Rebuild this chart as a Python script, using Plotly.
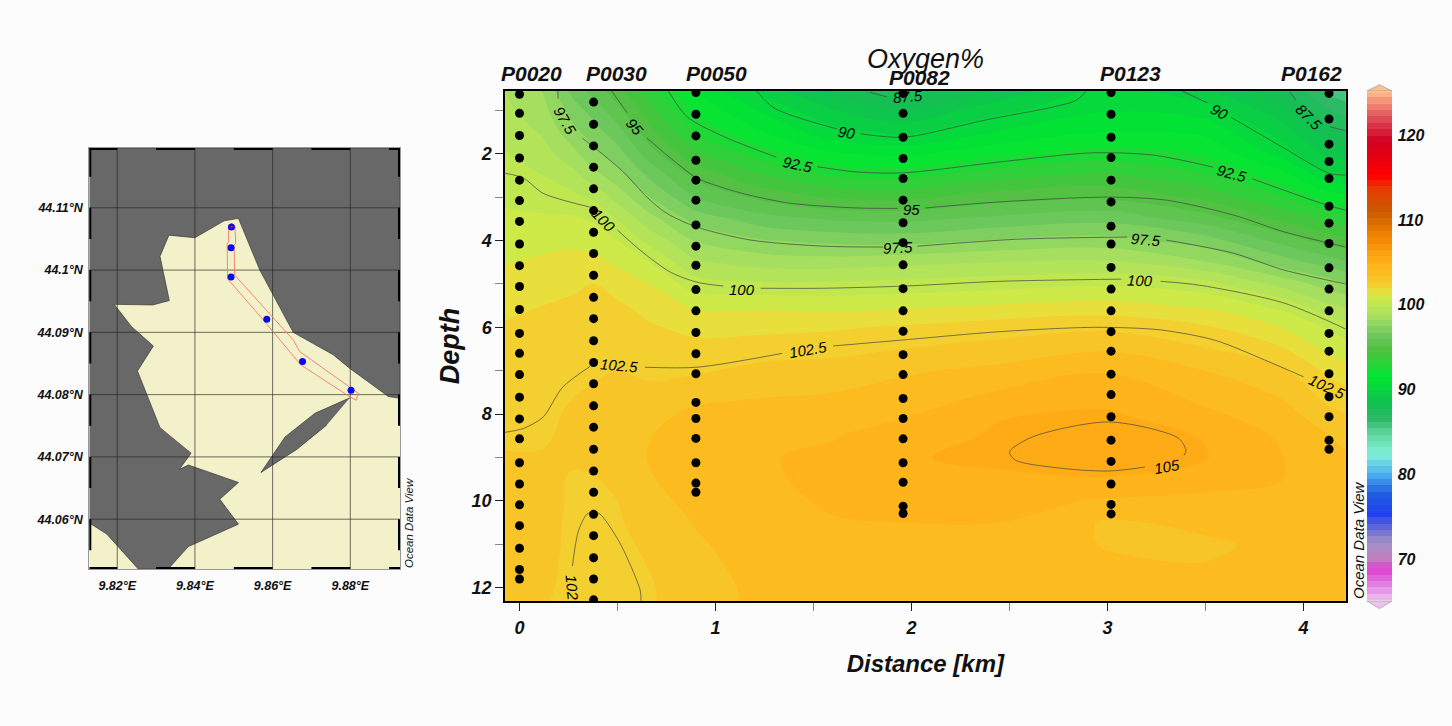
import plotly.graph_objects as go

W, H = 1452, 726
FONT = "Liberation Sans"

# ---------- section field (Oxygen %) ----------
grid_depth = [0.555, 1, 1.5, 2, 2.5, 3, 3.5, 4, 4.5, 5, 5.5, 6, 7, 8, 8.5, 9, 9.5, 10, 10.5, 11, 12, 12.306]
grid_km = [-0.074, 0.12, 0.27, 0.38, 0.5, 0.65, 0.9, 1.25, 1.6, 1.96, 2.45, 3.0, 3.5, 3.9, 4.13, 4.215]
col_a = [98.9, 99.1, 99.4, 99.7, 100.05, 100.3, 100.5, 100.8, 101.1, 101.4, 101.7, 102, 102.25, 102.45, 102.55, 102.7, 102.8, 102.85, 102.85, 102.85, 102.8, 102.8]
col_b = [98.1, 98.4, 98.8, 99.2, 99.65, 100.1, 100.5, 100.9, 101.3, 101.6, 101.9, 102.05, 102.25, 102.47, 102.57, 102.7, 102.8, 102.85, 102.85, 102.85, 102.75, 102.7]
col_c = [96.4, 97.1, 97.65, 98.4, 99.2, 99.85, 100.5, 101, 101.4, 101.8, 102, 102.2, 102.47, 102.75, 102.8, 102.72, 102.6, 102.57, 102.54, 102.52, 102.5, 102.48]
col_d = [95.6, 96.3, 97, 97.6, 98.4, 99.5, 100.3, 100.8, 101.4, 101.9, 102.1, 102.3, 102.55, 102.9, 102.85, 102.75, 102.62, 102.53, 102.45, 102.4, 102.35, 102.35]
col_e = [94.7, 95.4, 96.2, 97, 97.7, 98.6, 99.6, 100.4, 101, 101.6, 102, 102.2, 102.65, 103, 103, 102.9, 102.75, 102.65, 102.58, 102.5, 102.4, 102.4]
col_f = [93.3, 94.1, 94.8, 95.6, 96.6, 97.5, 98.5, 99.5, 100.5, 101.2, 101.7, 102, 102.52, 103.1, 103.35, 103.4, 103.3, 103.1, 102.9, 102.75, 102.55, 102.55]
col_g = [91.3, 92, 92.8, 93.8, 94.9, 95.9, 97.1, 98.1, 99, 100, 101, 101.7, 102.55, 103.6, 103.8, 103.95, 103.85, 103.65, 103.45, 103.3, 103.1, 103.05]
col_h = [89.6, 90.5, 91.4, 92.5, 93.7, 94.9, 96.2, 97.45, 98.6, 99.75, 101, 101.7, 102.9, 103.7, 104, 104.1, 104.05, 103.95, 103.85, 103.8, 103.6, 103.6]
col_i = [88.2, 89.2, 90.15, 91.5, 92.85, 94.3, 95.8, 97.2, 98.5, 99.8, 100.9, 101.8, 103, 103.8, 104.1, 104.3, 104.35, 104.25, 104.1, 103.9, 103.6, 103.55]
col_j = [87.2, 88.4, 89.7, 91.2, 92.7, 94.2, 95.7, 97.1, 98.7, 99.9, 101, 102, 103.3, 104.05, 104.55, 104.85, 104.7, 104.4, 104.15, 103.9, 103.6, 103.6]
col_k = [88.6, 89.7, 90.7, 92, 93.4, 94.8, 96.1, 97.5, 98.9, 100.1, 101.2, 102.3, 103.6, 104.85, 105, 105.02, 104.8, 104.45, 104.15, 103.9, 103.65, 103.6]
col_l = [90.3, 90.6, 91.4, 92.5, 93.8, 95, 96.4, 97.7, 99, 100.3, 101.4, 102.5, 104.1, 105, 105.3, 105.25, 104.85, 104.05, 103.3, 103.35, 103.7, 103.7]
col_m = [89.3, 90.3, 91.2, 92.1, 93, 94.2, 95.5, 97, 98.2, 99.95, 101, 102, 103.4, 104.3, 104.85, 104.95, 104.4, 104, 103.55, 103.3, 103.55, 103.55]
col_n = [87.7, 88.6, 89.5, 90.3, 91.7, 92.9, 94.2, 95.6, 97, 98.6, 100.15, 101.1, 102.75, 103.7, 104, 104.15, 104.15, 103.7, 103.6, 103.55, 103.55, 103.55]
col_o = [85.9, 86.9, 87.9, 88.9, 90.15, 91.8, 93.5, 94.8, 96.3, 97.8, 99, 100.3, 101.7, 102.85, 103.4, 103.7, 103.8, 103.7, 103.6, 103.55, 103.5, 103.5]
col_p = [85.6, 86.6, 87.6, 88.8, 90.05, 91.6, 93.2, 94.6, 96, 97.5, 98.8, 99.95, 101.5, 102.7, 103.2, 103.5, 103.6, 103.6, 103.55, 103.5, 103.5, 103.5]
grid_columns = [col_a, col_b, col_c, col_d, col_e, col_f, col_g, col_h, col_i, col_j, col_k, col_l, col_m, col_n, col_o, col_p]
grid_z = [list(r) for r in zip(*grid_columns)]

palette = [
    (65, "#f0c0f0"), (67, "#e080e0"), (68.8, "#e040d0"), (70, "#c080c0"), (72, "#a090c8"), (73.3, "#7070d0"),
    (75.3, "#2040f0"), (77.8, "#2060e0"), (80.2, "#50b8f0"), (82.3, "#80f0d8"), (84.7, "#60d8a0"), (86.4, "#30b868"),
    (88.3, "#10c050"), (91.5, "#00e830"), (94.5, "#50c040"), (96.5, "#70c860"), (98.6, "#a8e060"), (100.8, "#cdea48"),
    (101.5, "#e8e03c"), (102.3, "#f3d030"), (103, "#f8c528"), (103.8, "#fcbc20"), (104.5, "#feb41a"), (105.3, "#ffab16"),
    (108.3, "#f08000"), (111, "#c85a00"), (113.5, "#e83c00"), (115.2, "#ff0000"),
    (119.3, "#d00020"), (121.4, "#dc3c50"), (123.4, "#f08070"), (125.2, "#fdbe8e"),
]
Z0, Z1, DZ = 65.15, 125.15, 0.75

# ---------- stations ----------
station_names = ["P0020", "P0030", "P0050", "P0082", "P0123", "P0162"]
station_km = [0, 0.378, 0.9, 1.957, 3.018, 4.13]
station_label_km = [0.059, 0.496, 1.003, 2.043, 3.115, 4.043]
station_label_y = [73.5, 73.5, 73.5, 78, 73.5, 73.5]
depths_p0020 = [0.63, 1.07, 1.58, 2.10, 2.61, 3.08, 3.56, 4.08, 4.58, 5.06, 5.59, 6.14, 6.60, 7.09, 7.61, 8.11, 8.57, 9.12, 9.61, 10.09, 10.57, 11.09, 11.58, 11.80]
depths_p0030 = [0.81, 1.32, 1.82, 2.31, 2.81, 3.31, 3.81, 4.30, 4.80, 5.31, 5.80, 6.31, 6.81, 7.30, 7.81, 8.30, 8.81, 9.31, 9.80, 10.31, 10.80, 11.31, 11.80, 12.28]
depths_p0050 = [0.59, 1.09, 1.59, 2.15, 2.61, 3.07, 3.64, 4.13, 4.57, 5.13, 5.62, 6.12, 6.61, 7.07, 7.73, 8.10, 8.56, 9.12, 9.59, 9.80]
depths_p0082 = [0.61, 1.07, 1.62, 2.11, 2.57, 3.07, 3.59, 4.05, 4.56, 5.11, 5.62, 6.09, 6.63, 7.09, 7.64, 8.10, 8.57, 9.12, 9.57, 10.12, 10.29]
depths_p0123 = [0.59, 1.09, 1.62, 2.09, 2.61, 3.11, 3.67, 4.08, 4.62, 5.12, 5.62, 6.10, 6.55, 7.08, 7.55, 8.06, 8.60, 9.09, 9.61, 10.08, 10.30]
depths_p0162 = [0.61, 1.20, 1.78, 2.18, 2.57, 3.21, 3.60, 4.07, 4.63, 5.12, 5.62, 6.14, 6.55, 7.07, 7.60, 8.06, 8.60, 8.81]
station_depths = [depths_p0020, depths_p0030, depths_p0050, depths_p0082, depths_p0123, depths_p0162]

# ---------- isolines (km, depth), None = gap for a label ----------
G = (None, None)
iso_87_5 = [(1.788, 0.585), (1.873, 0.69), G, (3.93, 0.58), (3.96, 0.76), G, (4.135, 1.38), (4.215, 1.47)]
iso_90 = [(1.21, 0.555), (1.3, 0.95), (1.62, 1.43), G, (1.74, 1.54), (1.96, 1.62), (2.37, 1.23), (2.84, 0.77), (2.89, 0.555), G,
          (3.38, 0.555), (3.51, 0.83), G, (3.63, 1.16), (3.9, 1.87), (4.13, 2.45), (4.215, 2.49)]
iso_92_5 = [(0.76, 0.555), (0.855, 1.15), (1.04, 1.6), (1.31, 2.08), G, (1.52, 2.3), (1.72, 2.42), (1.96, 2.44), (2.45, 2.19),
            (2.92, 1.98), (3.23, 2.03), (3.54, 2.31), G, (3.74, 2.58), (4.13, 3.2), (4.215, 3.3)]
iso_95 = [(0.47, 0.555), (0.55, 1.06), G, (0.65, 1.64), (0.8, 2.21), (0.905, 2.56), (1.125, 2.9), (1.38, 3.14), (1.72, 3.25), (1.93, 3.26), G,
          (2.07, 3.25), (2.45, 3.11), (3.0, 3.0), (3.3, 3.07), (3.64, 3.41), (3.9, 3.8), (4.13, 4.06), (4.215, 4.15)]
iso_97_5 = [(0.196, 0.555), (0.196, 0.73), G, (0.32, 1.64), (0.41, 1.96), (0.53, 2.42), (0.65, 3.0), (0.75, 3.37), (0.905, 3.69), (1.18, 3.99),
            (1.55, 4.13), (1.855, 4.15), G, (2.03, 4.13), (2.54, 3.97), (3.1, 3.92), G, (3.3, 3.99), (3.64, 4.29), (3.9, 4.68), (4.215, 5.0)]
iso_100 = [(-0.074, 2.45), (0.02, 2.56), (0.12, 2.91), (0.36, 3.23), G, (0.5, 3.76), (0.615, 4.22), (0.77, 4.73), (0.905, 4.96), (1.04, 5.05), G,
           (1.23, 5.1), (1.55, 5.1), (1.96, 5.05), (2.45, 4.94), (3.07, 4.89), G, (3.27, 4.94), (3.47, 5.03), (3.9, 5.44), (4.215, 6.04)]
iso_102_5 = [(-0.074, 8.42), (0.02, 8.33), (0.12, 8.07), (0.22, 7.38), (0.36, 6.9), G, (0.64, 6.92), (0.905, 6.92), (1.34, 6.6), G,
             (1.6, 6.43), (1.96, 6.29), (2.45, 6.1), (2.94, 6.0), (3.27, 6.06), (3.55, 6.3), (3.8, 6.75), (4.0, 7.14)]
iso_102_5_low = [(0.27, 11.5), (0.3, 10.7), (0.345, 10.3), (0.38, 10.26), (0.41, 10.3), (0.51, 10.95), (0.615, 12.05), (0.62, 12.306)]
iso_105 = [(3.19, 9.22), (3.01, 9.31), (2.79, 9.26), (2.53, 9.06), (2.5, 8.87), (2.62, 8.52), (3.01, 8.18), (3.36, 8.55), (3.4, 8.83), (3.39, 8.95)]
isolines = [iso_87_5, iso_90, iso_92_5, iso_95, iso_97_5, iso_100, iso_102_5, iso_102_5_low, iso_105]

# label text, km, depth, rotation
contour_labels = [
    ("97.5", 0.232, 1.24, 60), ("95", 0.586, 1.38, 50), ("90", 1.669, 1.52, 10), ("92.5", 1.423, 2.24, 12),
    ("87.5", 1.984, 0.69, -5), ("95", 2.0, 3.28, 0), ("97.5", 1.93, 4.16, -3), ("100", 0.431, 3.53, 45),
    ("100", 1.134, 5.12, 0), ("90", 3.569, 1.02, 30), ("87.5", 4.03, 1.16, 45), ("92.5", 3.637, 2.45, 15),
    ("97.5", 3.196, 3.97, 5), ("100", 3.166, 4.93, 2), ("102.5", 4.118, 7.37, 25), ("102.5", 1.474, 6.52, -10),
    ("102.5", 0.509, 6.89, 5), ("102", 0.27, 12.01, 85), ("105", 3.305, 9.2, -10),
]

# ---------- map ----------
land_north_lon = [9.8128, 9.8928, 9.8928, 9.8898, 9.8799, 9.8756, 9.8653, 9.8602, 9.8567, 9.8512, 9.8475, 9.8400, 9.8333, 9.8310, 9.8334, 9.8291, 9.8192, 9.8237, 9.8293, 9.8252, 9.8310, 9.8390, 9.8360, 9.8383, 9.8512, 9.8464, 9.8512, 9.8383, 9.8331, 9.8254, 9.8198, 9.8173, 9.8128]
land_north_lat = [44.1196, 44.1196, 44.0794, 44.0797, 44.0842, 44.0864, 44.0900, 44.0959, 44.1000, 44.1083, 44.1079, 44.1052, 44.1056, 44.1022, 44.0951, 44.0944, 44.0945, 44.0909, 44.0878, 44.0838, 44.0747, 44.0706, 44.0680, 44.0687, 44.0659, 44.0632, 44.0592, 44.0556, 44.0520, 44.0520, 44.0559, 44.0576, 44.0594]
island_lon = [9.8799, 9.8709, 9.8632, 9.8570, 9.8662, 9.8739]
island_lat = [44.0795, 44.0770, 44.0732, 44.0675, 44.0712, 44.0751]
track_lon = [9.8495, 9.8503, 9.8505, 9.8501, 9.8502, 9.8580, 9.8653, 9.8670, 9.8821, 9.8815, 9.8795, 9.8672, 9.8576, 9.8484, 9.8483, 9.8487, 9.8486, 9.8495]
track_lat = [44.1075, 44.1070, 44.1043, 44.1040, 44.0992, 44.0939, 44.0888, 44.0869, 44.0802, 44.0791, 44.0798, 44.0848, 44.0920, 44.0986, 44.1043, 44.1045, 44.1070, 44.1075]
map_station_lon = [9.8494, 9.8493, 9.8493, 9.8585, 9.8677, 9.8802]
map_station_lat = [44.1069, 44.1036, 44.0989, 44.0921, 44.0853, 44.0807]
lon_ticks = [9.82, 9.84, 9.86, 9.88]
lon_labels = ["9.82°E", "9.84°E", "9.86°E", "9.88°E"]
lat_ticks = [44.06, 44.07, 44.08, 44.09, 44.10, 44.11]
lat_labels = ["44.06°N", "44.07°N", "44.08°N", "44.09°N", "44.1°N", "44.11°N"]
lon_range = [9.8128, 9.8928]
lat_range = [44.052, 44.1196]
frame_lon_black = [(9.8128, 9.82), (9.83, 9.84), (9.85, 9.86), (9.87, 9.88), (9.89, 9.8928)]
frame_lat_black = [(44.115, 44.1196), (44.105, 44.11), (44.095, 44.10), (44.085, 44.09), (44.075, 44.08), (44.065, 44.07), (44.055, 44.06)]

km_range = [-0.074, 4.215]
depth_range = [12.306, 0.555]


def px(x):
    return x / W


def py(y):
    return 1 - y / H


bold = dict(family=FONT, weight="bold", style="italic", color="#111")
fig = go.Figure()

fig.add_trace(go.Contour(
    x=grid_km, y=grid_depth, z=grid_z, zauto=False, zmin=Z0, zmax=Z1, autocontour=False,
    contours=dict(start=Z0, end=Z1, size=DZ, coloring="fill", showlines=False),
    line=dict(width=0, smoothing=1.0),
    colorscale=[[(v - Z0) / (Z1 - Z0) if v > Z0 else 0, c] for v, c in palette if v < Z1] + [[1, palette[-1][1]]],
    colorbar=dict(
        x=px(1367), xanchor="left", xpad=0, thickness=25, thicknessmode="pixels",
        y=py(346), yanchor="middle", ypad=0, len=509, lenmode="pixels",
        outlinewidth=0, tickmode="array", tickvals=[70, 80, 90, 100, 110, 120],
        ticks="outside", ticklen=3, tickcolor="rgba(0,0,0,0)",
        tickfont=dict(size=16, **bold),
    ),
    hoverinfo="skip", showscale=True,
))

for iso in isolines:
    fig.add_trace(go.Scatter(
        x=[p[0] for p in iso], y=[p[1] for p in iso], mode="lines",
        line=dict(color="#444", width=0.7, shape="spline", smoothing=0.8),
        connectgaps=False, showlegend=False, hoverinfo="skip",
    ))

for name, km, depths in zip(station_names, station_km, station_depths):
    fig.add_trace(go.Scatter(
        x=[km] * len(depths), y=depths, mode="markers", name=name,
        marker=dict(color="black", size=9), showlegend=False,
    ))

# map
fig.add_trace(go.Scatter(x=land_north_lon, y=land_north_lat, xaxis="x2", yaxis="y2", mode="lines", fill="toself",
                         fillcolor="#686868", line=dict(color="#3a3a3a", width=0.7), showlegend=False, hoverinfo="skip"))
fig.add_trace(go.Scatter(x=island_lon, y=island_lat, xaxis="x2", yaxis="y2", mode="lines", fill="toself",
                         fillcolor="#686868", line=dict(color="#3a3a3a", width=0.7), showlegend=False, hoverinfo="skip"))
grid_x, grid_y = [], []
for v in lon_ticks:
    grid_x += [v, v, None]
    grid_y += [lat_range[0], lat_range[1], None]
for v in lat_ticks:
    grid_x += [lon_range[0], lon_range[1], None]
    grid_y += [v, v, None]
fig.add_trace(go.Scatter(x=grid_x, y=grid_y, xaxis="x2", yaxis="y2", mode="lines",
                         line=dict(color="rgba(35,35,35,0.65)", width=1), showlegend=False, hoverinfo="skip"))
fig.add_trace(go.Scatter(x=track_lon, y=track_lat, xaxis="x2", yaxis="y2", mode="lines",
                         line=dict(color="#f47c68", width=0.9), showlegend=False, hoverinfo="skip"))
fig.add_trace(go.Scatter(x=map_station_lon, y=map_station_lat, xaxis="x2", yaxis="y2", mode="markers",
                         marker=dict(color="#0a0af0", size=7), showlegend=False))
fig.add_trace(go.Scatter(x=map_station_lon[:1], y=map_station_lat[:1], xaxis="x2", yaxis="y2", mode="markers",
                         marker=dict(color="#e01010", size=2.5), showlegend=False, hoverinfo="skip"))
fx, fy = [], []
for a, b in frame_lon_black:
    for lat in lat_range:
        fx += [a, b, None]
        fy += [lat, lat, None]
for a, b in frame_lat_black:
    for lon in lon_range:
        fx += [lon, lon, None]
        fy += [a, b, None]
fig.add_trace(go.Scatter(x=fx, y=fy, xaxis="x2", yaxis="y2", mode="lines", cliponaxis=False,
                         line=dict(color="black", width=4), showlegend=False, hoverinfo="skip"))

annotations = []
for text, km, depth, ang in contour_labels:
    annotations.append(dict(text=text, x=km, y=depth, xref="x", yref="y", showarrow=False, textangle=ang,
                            font=dict(family=FONT, size=15, style="italic", color="black")))
for name, km, yy in zip(station_names, station_label_km, station_label_y):
    annotations.append(dict(text=name, x=km, y=py(yy), xref="x", yref="paper", xanchor="center", yanchor="middle", showarrow=False,
                            font=dict(size=21, **bold)))
annotations.append(dict(text="Oxygen%", x=px(925), y=py(59), xref="paper", yref="paper", xanchor="center", yanchor="middle", showarrow=False,
                        font=dict(family=FONT, size=27, style="italic", color="#111")))
annotations.append(dict(text="Ocean Data View", x=px(409), y=py(523), xref="paper", yref="paper", xanchor="center", yanchor="middle", textangle=-90, showarrow=False,
                        font=dict(family=FONT, size=11.5, style="italic", color="#111")))
annotations.append(dict(text="Ocean Data View", x=px(1358), y=py(540), xref="paper", yref="paper", xanchor="center", yanchor="middle", textangle=-90, showarrow=False,
                        font=dict(family=FONT, size=15, style="italic", color="#111")))


def cap(points, color):
    path = "M" + " L".join(f"{px(a):.5f},{py(b):.5f}" for a, b in points) + " Z"
    return dict(type="path", path=path, xref="paper", yref="paper", fillcolor=color,
                line=dict(color="#999", width=0.7), layer="above")


shapes = [
    cap([(1367, 91), (1379.5, 84.7), (1392, 91)], "#fdbe8e"),
    cap([(1367, 601), (1379.5, 608.6), (1392, 601)], "#f0c0f0"),
]

fig.update_layout(
    width=W, height=H, margin=dict(l=0, r=0, t=0, b=0), autosize=False,
    paper_bgcolor="#fcfcfc", plot_bgcolor="#f3f1c9", showlegend=False,
    annotations=annotations, shapes=shapes, hovermode="closest",
    xaxis=dict(domain=[px(505), px(1345.7)], range=km_range, dtick=1, tick0=0, showgrid=False, zeroline=False,
               showline=True, mirror=True, linecolor="black", linewidth=1.5, ticks="outside", ticklen=8, tickcolor="#222",
               minor=dict(dtick=0.5, ticks="outside", ticklen=8, tickcolor="#888", showgrid=False),
               tickfont=dict(size=18, **bold), ticklabelstandoff=2,
               title=dict(text="Distance [km]", font=dict(size=24, **bold), standoff=18)),
    yaxis=dict(domain=[py(601), py(91)], range=depth_range, dtick=2, tick0=0, showgrid=False, zeroline=False,
               showline=True, mirror=True, linecolor="black", linewidth=1.5, ticks="outside", ticklen=8, tickcolor="#222",
               minor=dict(dtick=1, ticks="outside", ticklen=8, tickcolor="#888", showgrid=False),
               tickfont=dict(size=18, **bold),
               title=dict(text="Depth", font=dict(size=27, **bold), standoff=4)),
    xaxis2=dict(domain=[px(89.3), px(400)], range=lon_range, anchor="y2", showgrid=False, zeroline=False,
                tickmode="array", tickvals=lon_ticks, ticktext=lon_labels, ticks="outside", ticklen=5,
                tickcolor="rgba(0,0,0,0)", tickfont=dict(size=12.5, **bold),
                showline=True, mirror=True, linecolor="#999", linewidth=1),
    yaxis2=dict(domain=[py(569), py(148)], range=lat_range, anchor="x2", showgrid=False, zeroline=False,
                tickmode="array", tickvals=lat_ticks, ticktext=lat_labels, ticks="outside", ticklen=3,
                tickcolor="rgba(0,0,0,0)", tickfont=dict(size=12.5, **bold),
                showline=True, mirror=True, linecolor="#999", linewidth=1),
)

fig.write_html("out.html", config={"displayModeBar": False},
               post_script="document.body.style.margin='0';document.body.style.overflow='hidden';")
